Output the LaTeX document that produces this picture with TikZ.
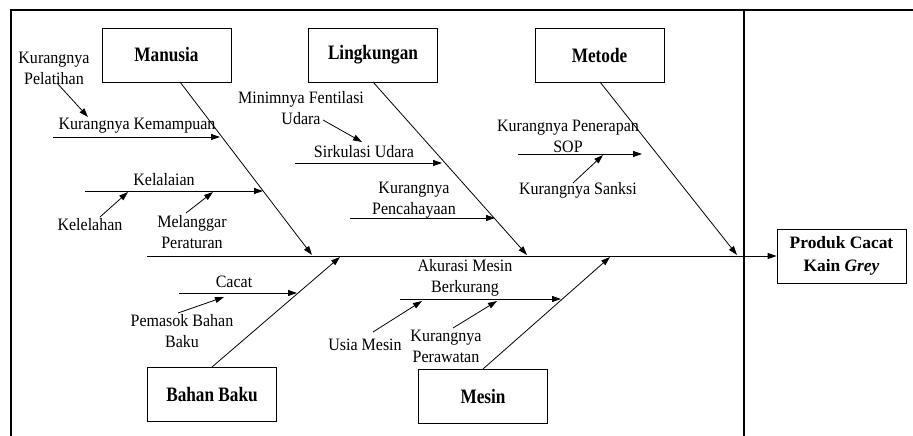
\documentclass[tikz,border=0pt]{standalone}
\usepackage{fontspec}
\setmainfont{Liberation Serif}
\newfontfamily\lblfont[FakeStretch=0.92]{Liberation Serif}
\newfontfamily\catfont[FakeStretch=0.84]{Liberation Serif}
\usetikzlibrary{arrows.meta}
\begin{document}
\begin{tikzpicture}[x=1pt,y=-1pt,
  cat/.style={draw, line width=0.8pt, minimum width=129pt, minimum height=54pt, inner sep=0pt,
    font=\catfont\fontsize{20.5}{21}\selectfont\bfseries, align=center},
  effbox/.style={draw, line width=0.8pt, minimum width=129pt, minimum height=54pt, inner sep=0pt,
    font=\fontsize{17.4}{23}\selectfont\bfseries, align=center},
  lbl/.style={font=\lblfont\fontsize{17.4}{21}\selectfont, align=center, inner sep=0pt},
  arr/.style={-{Triangle[length=9pt,width=6pt]}, line width=0.8pt},
  frameline/.style={line width=1.6pt}]
\useasboundingbox (0,0) rectangle (913,436);
% frame
\coordinate (f0) at (11,436); \coordinate (f1) at (11,10); \coordinate (f2) at (913,10);
\coordinate (f3) at (744,10); \coordinate (f4) at (744,436);
\draw[frameline] (f0) -- (f1) -- (f2);
\draw[frameline] (f3) -- (f4);
% category boxes
\node[cat] (man) at (166.5,55) {Manusia};
\node[cat] (lin) at (373,55) {Lingkungan};
\node[cat] (met) at (599.5,55) {Metode};
\node[cat] (bb) at (212,394.5) {Bahan Baku};
\node[cat] (mes) at (483,396) {Mesin};
\node[effbox] (eff) at (841.5,256) {Produk Cacat\\Kain \textit{Grey}};
% spine
\coordinate (s0) at (147,256);
\draw[arr] (s0) -- (eff.west);
% main bones
\coordinate (mA) at (180,82);  \coordinate (mT) at (312,255);
\coordinate (lA) at (373,82);  \coordinate (lT) at (527,255);
\coordinate (tA) at (600,82);  \coordinate (tT) at (737,255);
\coordinate (bA) at (212,367); \coordinate (bT) at (340,257);
\coordinate (eA) at (483,369); \coordinate (eT) at (610,257);
\draw[arr] (mA) -- (mT);
\draw[arr] (lA) -- (lT);
\draw[arr] (tA) -- (tT);
\draw[arr] (bA) -- (bT);
\draw[arr] (eA) -- (eT);
% labels
\node[lbl] (kp) at (54,68) {Kurangnya\\Pelatihan};
\node[lbl] (kk) at (137,126) {Kurangnya Kemampuan};
\node[lbl] (kel) at (164,180) {Kelalaian};
\node[lbl] (kll) at (90,225) {Kelelahan};
\node[lbl] (mp) at (192,232) {Melanggar\\Peraturan};
\node[lbl] (mfu) at (301,108) {Minimnya Fentilasi\\Udara};
\node[lbl] (su) at (364,152) {Sirkulasi Udara};
\node[lbl] (kpc) at (414,200) {Kurangnya\\Pencahayaan};
\node[lbl] (kps) at (568,136) {Kurangnya Penerapan\\SOP};
\node[lbl] (ks) at (578,190) {Kurangnya Sanksi};
\node[lbl] (cc) at (234,282) {Cacat};
\node[lbl] (pbb) at (182,331) {Pemasok Bahan\\Baku};
\node[lbl] (amb) at (465,278) {Akurasi Mesin\\Berkurang};
\node[lbl] (um) at (365,345) {Usia Mesin};
\node[lbl] (kpr) at (446,346) {Kurangnya\\Perawatan};
% sub-bones
\coordinate (kk0) at (53,137);  \coordinate (kk1) at (220,137);
\coordinate (ke0) at (85,191);  \coordinate (ke1) at (263,191);
\coordinate (su0) at (295,163); \coordinate (su1) at (442,163);
\coordinate (kc0) at (350,218); \coordinate (kc1) at (495,218);
\coordinate (so0) at (518,154); \coordinate (so1) at (642,154);
\coordinate (ca0) at (179,293); \coordinate (ca1) at (297,293);
\coordinate (am0) at (400,299); \coordinate (am1) at (561,299);
\draw[arr] (kk0) -- (kk1);
\draw[arr] (ke0) -- (ke1);
\draw[arr] (su0) -- (su1);
\draw[arr] (kc0) -- (kc1);
\draw[arr] (so0) -- (so1);
\draw[arr] (ca0) -- (ca1);
\draw[arr] (am0) -- (am1);
% sub-sub arrows
\coordinate (p0) at (57,83);   \coordinate (p1) at (88,117);
\coordinate (l0) at (100,217); \coordinate (l1) at (128,192);
\coordinate (g0) at (186,213); \coordinate (g1) at (213,192);
\coordinate (f5) at (323,120); \coordinate (f6) at (362,142);
\coordinate (n0) at (573,183); \coordinate (n1) at (603,155);
\coordinate (o0) at (178,313); \coordinate (o1) at (224,297);
\coordinate (u0) at (373,332); \coordinate (u1) at (422,301);
\coordinate (r0) at (453,328); \coordinate (r1) at (497,301);
\draw[arr] (p0) -- (p1);
\draw[arr] (l0) -- (l1);
\draw[arr] (g0) -- (g1);
\draw[arr] (f5) -- (f6);
\draw[arr] (n0) -- (n1);
\draw[arr] (o0) -- (o1);
\draw[arr] (u0) -- (u1);
\draw[arr] (r0) -- (r1);
\end{tikzpicture}
\end{document}
